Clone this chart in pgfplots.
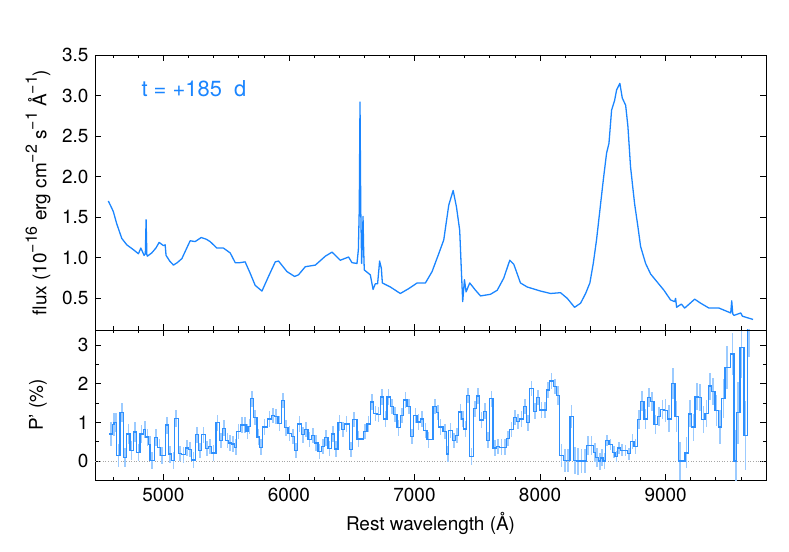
\documentclass[border=0pt]{standalone}
\usepackage{fontspec}
\setmainfont{TeX Gyre Heros}
\usepackage{pgfplots}
\usepackage{pgfplotstable}
\pgfplotsset{compat=1.18}
\definecolor{specblue}{HTML}{1A85FF}
\definecolor{stepblue}{HTML}{2E90FF}
\definecolor{barblue}{HTML}{9CCBFF}
\newcommand{\sups}[1]{\raisebox{0.5em}{\fontsize{16}{17}\selectfont #1}}

% polarisation bins: left edge, P' (%), error
\pgfplotstableread{
lam p e
4570 0.70 0.30
4594 0.95 0.30
4607 1.00 0.25
4628 0.15 0.30
4655 1.25 0.25
4681 0.10 0.25
4708 0.70 0.25
4734 0.27 0.25
4761 0.75 0.25
4788 0.23 0.22
4814 0.70 0.22
4841 0.82 0.22
4859 0.62 0.22
4881 0.43 0.22
4894 0.02 0.22
4929 0.60 0.22
4955 0.36 0.22
4974 0.15 0.22
5014 0.93 0.22
5040 0.18 0.22
5067 0.02 0.22
5088 1.11 0.22
5120 0.19 0.20
5146 0.16 0.20
5173 0.34 0.20
5200 0.30 0.20
5226 0.03 0.20
5253 0.68 0.20
5279 0.27 0.20
5306 0.68 0.20
5333 0.32 0.20
5359 0.38 0.20
5386 0.21 0.20
5418 0.99 0.20
5444 0.53 0.20
5471 0.85 0.20
5497 0.53 0.20
5519 0.47 0.20
5540 0.44 0.20
5566 0.36 0.20
5585 0.77 0.20
5612 0.93 0.20
5638 0.93 0.20
5657 0.77 0.20
5673 0.90 0.20
5691 1.61 0.20
5718 1.12 0.20
5745 0.62 0.20
5766 0.36 0.20
5792 0.88 0.20
5832 1.09 0.20
5859 1.18 0.20
5885 1.15 0.20
5912 0.97 0.20
5939 1.57 0.20
5965 0.86 0.20
5992 0.71 0.20
6018 0.63 0.20
6045 0.28 0.20
6071 0.96 0.20
6098 0.68 0.20
6125 0.82 0.20
6151 0.56 0.20
6178 0.66 0.20
6204 0.47 0.20
6231 0.25 0.20
6258 0.38 0.20
6284 0.60 0.20
6311 0.32 0.20
6337 0.70 0.20
6364 0.31 0.20
6390 0.99 0.20
6417 0.82 0.20
6444 0.96 0.20
6481 0.30 0.20
6507 1.08 0.20
6542 0.57 0.20
6595 0.77 0.20
6622 0.96 0.20
6648 1.53 0.20
6675 1.23 0.20
6701 1.21 0.20
6728 1.66 0.20
6755 1.09 0.20
6781 1.66 0.20
6808 1.41 0.20
6834 1.21 0.20
6861 0.86 0.20
6888 1.18 0.20
6914 1.58 0.20
6941 1.41 0.20
6967 0.63 0.20
6994 1.18 0.20
7020 1.01 0.20
7047 1.09 0.20
7074 0.79 0.20
7100 0.55 0.20
7148 1.41 0.20
7173 1.25 0.20
7193 0.88 0.20
7228 0.77 0.20
7254 0.18 0.20
7273 0.79 0.20
7300 0.53 0.20
7326 0.66 0.20
7353 1.27 0.20
7372 1.09 0.20
7393 0.83 0.20
7414 1.70 0.20
7440 0.12 0.22
7467 1.35 0.20
7494 1.68 0.20
7520 1.06 0.20
7547 1.29 0.20
7573 0.54 0.20
7600 1.61 0.20
7626 0.34 0.20
7653 0.38 0.20
7680 0.36 0.20
7706 0.36 0.20
7733 0.58 0.20
7759 0.82 0.20
7786 1.12 0.20
7812 1.02 0.20
7839 1.09 0.20
7866 1.41 0.20
7892 0.99 0.20
7919 1.88 0.20
7945 1.29 0.20
7972 1.64 0.20
7998 1.32 0.20
8025 1.32 0.20
8052 1.84 0.20
8078 2.07 0.20
8105 1.93 0.20
8131 1.70 0.25
8158 0.14 0.30
8185 0.02 0.30
8211 0.02 0.30
8238 1.16 0.30
8264 0.01 0.35
8291 0.00 0.35
8317 0.00 0.30
8344 0.00 0.30
8371 0.40 0.25
8397 0.40 0.25
8424 0.23 0.25
8443 0.10 0.25
8464 0.00 0.22
8482 0.08 0.22
8501 0.00 0.20
8522 0.53 0.15
8549 0.43 0.15
8575 0.23 0.15
8597 0.12 0.15
8615 0.34 0.15
8642 0.28 0.15
8668 0.27 0.15
8695 0.19 0.15
8722 0.51 0.20
8748 0.38 0.20
8775 1.08 0.25
8801 1.55 0.25
8828 1.09 0.25
8854 1.64 0.25
8881 1.54 0.25
8908 0.95 0.25
8934 1.15 0.25
8961 1.34 0.25
8987 1.31 0.30
9014 1.09 0.35
9048 2.00 0.40
9075 1.15 0.40
9102 0.00 0.50
9155 0.21 0.40
9181 1.22 0.35
9208 0.88 0.35
9235 1.66 0.35
9261 1.64 0.35
9288 1.08 0.35
9314 1.23 0.35
9341 1.94 0.35
9367 1.79 0.35
9394 1.31 0.40
9420 0.88 0.45
9447 1.61 0.50
9474 2.42 0.55
9519 2.77 0.55
9546 0.00 0.80
9564 1.25 0.80
9593 2.94 0.80
9625 0.66 0.90
9652 3.60 0.90
9680 3.60 0.00
}\poltab

\begin{document}
\fontsize{19}{22}\selectfont
\begin{tikzpicture}
\pgfplotsset{
  panel/.style={
    scale only axis, width=671bp,
    xmin=4455, xmax=9800,
    tick align=inside,
    major tick length=6bp, minor tick length=3.5bp,
    axis line style={line width=0.9pt},
    tick style={black, line width=0.7pt},
    xtick={5000,6000,7000,8000,9000},
    minor xtick={4600,4800,...,9600},
    /pgf/number format/assume math mode=true,
    /pgf/number format/1000 sep={},
    tick label style={font=\fontsize{19}{22}\selectfont},
    label style={font=\fontsize{19}{22}\selectfont},
    every axis y label/.style={at={(axis description cs:-0.085,0.5)}, rotate=90, anchor=center},
  },
}
% lower panel: polarisation
\begin{axis}[panel, name=bot, at={(0,0)}, anchor=south west,
    height=150bp, ymin=-0.49, ymax=3.39,
    ytick={0,1,2,3}, minor ytick={0.5,1.5,2.5},
    xticklabel style={yshift=-2bp},
    ylabel={P’ (\%)},
    xlabel={Rest wavelength (Å)},
    every axis x label/.style={at={(axis description cs:0.5,-0.293)}, anchor=center},
]
  \addplot[gray!70, dotted, line width=0.6pt] coordinates {(4455,0) (9800,0)};
  \addplot[draw=none, mark=none, forget plot,
    error bars/.cd, y dir=both, y explicit, error mark=none,
    error bar style={color=barblue, line width=1.6pt}]
    table[x expr=\thisrow{lam}+13, y=p, y error=e] {\poltab};
  \addplot[color=stepblue, line width=1.25pt, const plot mark left, mark=none]
    table[x=lam, y=p] {\poltab};
\end{axis}
% upper panel: flux spectrum
\begin{axis}[panel, at={(bot.north west)}, anchor=south west,
    height=275bp, ymin=0.11, ymax=3.5,
    ytick={0.5,1.0,...,3.5},
    xticklabels={},
    yticklabel style={/pgf/number format/.cd, fixed, fixed zerofill, precision=1},
    ylabel={flux (10\sups{−16} erg cm\sups{−2} s\sups{−1} Å\sups{−1})},
]
  \addplot[specblue, line width=1.3pt, line join=round] coordinates {
    (4561,1.70)(4580,1.64)(4601,1.57)(4628,1.42)(4668,1.24)(4708,1.16)(4761,1.10)
    (4801,1.05)(4820,1.12)(4846,1.03)(4856,1.05)(4862,1.47)(4868,1.04)(4872,1.02)
    (4907,1.06)(4940,1.12)(4966,1.19)(5000,1.15)(5014,1.16)(5021,1.03)(5050,0.96)
    (5080,0.91)(5110,0.94)(5147,0.99)(5180,1.10)(5213,1.21)(5253,1.20)(5301,1.25)
    (5340,1.23)(5372,1.20)(5426,1.12)(5478,1.12)(5532,1.06)(5572,0.94)(5610,0.94)
    (5651,0.95)(5691,0.81)(5731,0.66)(5785,0.59)(5837,0.77)(5891,0.95)(5917,0.96)
    (5984,0.83)(6045,0.77)(6076,0.79)(6130,0.89)(6210,0.91)(6290,1.02)(6343,1.07)
    (6409,0.97)(6475,1.01)(6502,0.94)(6542,0.93)(6553,1.10)(6560,1.60)(6566,2.92)
    (6572,1.60)(6579,0.93)(6585,1.20)(6590,1.51)(6595,1.10)(6600,0.85)(6648,0.79)
    (6670,0.61)(6688,0.68)(6706,0.68)(6716,0.85)(6722,0.96)(6736,0.87)(6744,0.69)
    (6808,0.64)(6887,0.56)(6954,0.62)(7021,0.69)(7087,0.69)(7140,0.83)(7193,1.05)
    (7233,1.22)(7273,1.65)(7308,1.83)(7334,1.63)(7360,1.34)(7371,0.93)(7384,0.46)
    (7398,0.73)(7411,0.58)(7440,0.69)(7486,0.60)(7526,0.53)(7605,0.55)(7659,0.60)
    (7711,0.75)(7759,0.97)(7791,0.92)(7844,0.69)(7898,0.64)(8004,0.59)(8084,0.56)
    (8163,0.57)(8217,0.50)(8275,0.39)(8323,0.44)(8363,0.56)(8397,0.69)(8424,0.93)
    (8450,1.22)(8477,1.59)(8504,1.96)(8530,2.29)(8549,2.41)(8570,2.82)(8594,2.94)
    (8610,3.07)(8636,3.15)(8655,2.97)(8682,2.88)(8700,2.62)(8721,2.12)(8753,1.67)
    (8780,1.38)(8801,1.14)(8841,0.93)(8881,0.80)(8934,0.70)(8987,0.60)(9040,0.48)
    (9072,0.46)(9080,0.50)(9088,0.39)(9126,0.43)(9152,0.38)(9232,0.49)(9280,0.44)
    (9346,0.38)(9426,0.38)(9519,0.32)(9527,0.47)(9535,0.31)(9545,0.29)(9599,0.32)
    (9612,0.28)(9697,0.24)
  };
  \node[anchor=west, text=specblue, font=\fontsize{22}{24}\selectfont]
    at (axis cs:4774,3.09) {t = +185\ \ d};
\end{axis}
\path[use as bounding box] (-95bp,-72bp) rectangle (694bp,480bp);
\end{tikzpicture}
\end{document}
